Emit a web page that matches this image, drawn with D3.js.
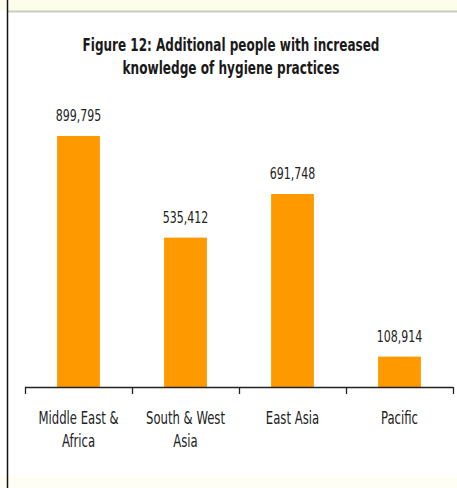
<!DOCTYPE html>
<html><head><meta charset="utf-8">
<script src="https://cdn.jsdelivr.net/npm/d3@7"></script>
<style>
html,body{margin:0;padding:0;background:#fff;}
svg{display:block;}
</style></head>
<body>
<script>
const categories = [["Middle East &","Africa"],["South & West","Asia"],["East Asia"],["Pacific"]];
const values = [899795, 535412, 691748, 108914];
const valueLabels = ["899,795","535,412","691,748","108,914"];
const titleLines = ["Figure 12: Additional people with increased","knowledge of hygiene practices"];

const W = 457, H = 488;
const svg = d3.select("body").append("svg").attr("width", W).attr("height", H);
const FONT = "'DejaVu Sans Condensed','DejaVu Sans',sans-serif";

// background bands
svg.append("rect").attr("x",0).attr("y",0).attr("width",W).attr("height",11).attr("fill","#fdfdec");
svg.append("rect").attr("x",0).attr("y",476).attr("width",W).attr("height",12).attr("fill","#fefef4");
svg.append("line").attr("x1",7).attr("x2",W).attr("y1",11.5).attr("y2",11.5).attr("stroke","#c9cbbd").attr("stroke-width",2);
svg.append("line").attr("x1",7.5).attr("x2",7.5).attr("y1",0).attr("y2",H).attr("stroke","#111").attr("stroke-width",1.5);

const x = d3.scaleBand().domain(d3.range(categories.length)).range([25, 453]).padding(0);
const y = d3.scaleLinear().domain([0, 1000000]).range([387, 108]);
const barW = x.bandwidth() * 0.4;

function condense(sel, k){
  sel.each(function(){
    const L = this.getComputedTextLength();
    d3.select(this).attr("textLength", L*k).attr("lengthAdjust","spacingAndGlyphs");
  });
}

// title (horizontally scaled via transform)
const tg = svg.append("g");
titleLines.forEach((line,i)=>{
  const target = i===0 ? 297 : 217;
  const g = tg.append("g");
  const t = g.append("text").attr("x",0).attr("y",0)
    .attr("text-anchor","middle").attr("font-family",FONT).attr("font-weight","bold")
    .attr("font-size",18).attr("fill","#1a1a1a").text(line);
  const L = t.node().getComputedTextLength();
  g.attr("transform", `translate(231,${51 + i*23}) scale(${target/L},1)`);
});

// bars
svg.append("g").selectAll("rect").data(values).join("rect")
  .attr("x",(d,i)=> x(i) + x.bandwidth()/2 - barW/2)
  .attr("width", barW)
  .attr("y", d=> y(d)).attr("height", d=> y(0)-y(d))
  .attr("fill","#ff9900");

// value labels
const vl = svg.append("g").selectAll("text").data(values).join("text")
  .attr("x",(d,i)=> x(i) + x.bandwidth()/2)
  .attr("y", d=> y(d) - 15)
  .attr("text-anchor","middle").attr("font-family",FONT).attr("font-size",16.5)
  .attr("fill","#222").text((d,i)=> valueLabels[i]);
condense(vl, 0.74);

// axis
const ax = svg.append("g");
ax.append("line").attr("x1", x.range()[0]).attr("x2", x.range()[1]).attr("y1", y(0)+0.5).attr("y2", y(0)+0.5)
  .attr("stroke","#222").attr("stroke-width",1.3);
const edges = d3.range(categories.length).map(i=>x(i)).concat([x.range()[1]]);
ax.selectAll("line.tick").data(edges).join("line").attr("class","tick")
  .attr("x1",d=>d+0.5).attr("x2",d=>d+0.5).attr("y1",y(0)).attr("y2",y(0)+7)
  .attr("stroke","#222").attr("stroke-width",1.3);

const cl = svg.append("g").selectAll("text").data(categories).join("text")
  .attr("x",(d,i)=> x(i) + x.bandwidth()/2)
  .attr("y", 424)
  .attr("text-anchor","middle").attr("font-family",FONT).attr("font-size",17.5).attr("fill","#222");
cl.each(function(d,i){
  const t = d3.select(this);
  d.forEach((line,j)=>{
    t.append("tspan").attr("x", x(i)+x.bandwidth()/2).attr("y", 424 + j*23).text(line);
  });
});
cl.selectAll("tspan").each(function(){
  const L = this.getComputedTextLength();
  d3.select(this).attr("textLength", L*0.74).attr("lengthAdjust","spacingAndGlyphs");
});
</script>
</body></html>
